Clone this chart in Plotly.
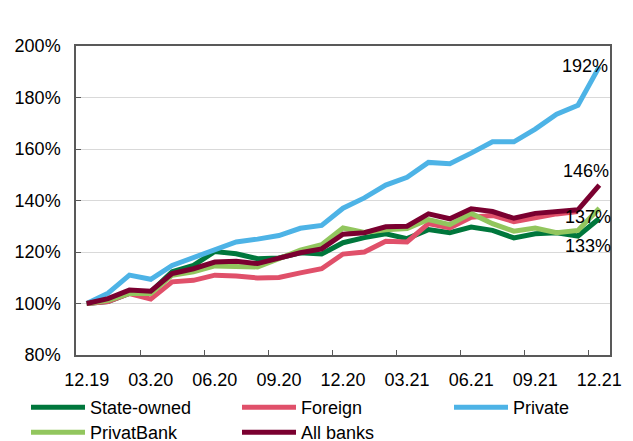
import plotly.graph_objects as go

# Monthly index, Dec 2019 = 100%
months = ["12.19", "01.20", "02.20", "03.20", "04.20", "05.20", "06.20", "07.20", "08.20",
          "09.20", "10.20", "11.20", "12.20", "01.21", "02.21", "03.21", "04.21", "05.21",
          "06.21", "07.21", "08.21", "09.21", "10.21", "11.21", "12.21"]
tick_months = ["12.19", "03.20", "06.20", "09.20", "12.20", "03.21", "06.21", "09.21", "12.21"]

state_owned = [100, 100.8, 103.9, 104.5, 112.3, 114.8, 120.2, 119.3, 117.4, 117.7, 119.7, 119.2,
               123.6, 125.6, 127.1, 125.2, 128.7, 127.5, 129.7, 128.4, 125.5, 127.1, 127.5, 126.2, 133]
foreign = [100, 100.8, 103.9, 101.7, 108.4, 109, 111, 110.7, 109.9, 110.1, 111.9, 113.5,
           119.2, 120.0, 124.2, 123.9, 131, 129.4, 133.5, 134.2, 131.8, 133.5, 134.8, 135.7, None]
private = [100, 104, 111, 109.4, 114.8, 117.7, 121, 123.9, 125, 126.4, 129.2, 130.3,
           137, 141, 146, 149, 154.8, 154.3, 158.4, 162.8, 162.8, 167.7, 173.5, 177, 192]
privatbank = [100, 101.2, 103.9, 103.9, 111, 112.3, 114.6, 114.6, 114.2, 117.4, 120.7, 122.8,
              129.3, 127.6, 128.6, 129.1, 132.6, 130.6, 135, 131, 128.1, 129.3, 127.5, 128.4, 137]
all_banks = [100, 101.9, 105.2, 104.8, 111.6, 113.5, 116.1, 116.4, 115.5, 117.7, 119.7, 121.2,
             126.9, 127.5, 129.8, 130, 134.8, 132.9, 136.8, 135.7, 133.1, 135, 135.7, 136.4, 146]

FONT = "Liberation Sans, Arial, sans-serif"
W, H = 633, 441

# (name, values, colour, legend id, legend left px, legend top px)
series = [
    ("State-owned", state_owned, "#00773C", "legend", 26, 389),
    ("Foreign", foreign, "#E0506A", "legend2", 237, 389),
    ("Private", private, "#4DB3E6", "legend3", 449, 389),
    ("PrivatBank", privatbank, "#92C65E", "legend4", 26, 414),
    ("All banks", all_banks, "#7A0030", "legend5", 237, 414),
]

fig = go.Figure()
legend_layout = {}
for name, vals, color, leg, lx, ly in series:
    fig.add_trace(go.Scatter(x=list(range(len(months))), y=vals, name=name, mode="lines",
                             line=dict(color=color, width=5), connectgaps=False,
                             legend=leg))
    legend_layout[leg] = dict(
        x=lx / W, y=1 - ly / H, xref="container", yref="container",
        xanchor="left", yanchor="top", orientation="v", itemwidth=54,
        font=dict(family=FONT, size=18, color="#000000"),
        bgcolor="rgba(0,0,0,0)",
    )

# End-of-period value labels: (series, x shift, y shift)
end_labels = [
    (private, 11, 1),
    (all_banks, 12, 14),
    (privatbank, 14, -9),
    (state_owned, 14, -27),
]
last = len(months) - 1
for vals, dx, dy in end_labels:
    v = vals[-1]
    fig.add_annotation(x=last, y=v, text=f"{v:.0f}%", showarrow=False,
                       xanchor="right", yanchor="middle", xshift=dx, yshift=dy,
                       font=dict(family=FONT, size=18, color="#000000"))

fig.update_layout(
    width=W, height=H,
    margin=dict(l=76, r=23, t=46, b=86, autoexpand=False),
    plot_bgcolor="white", paper_bgcolor="white",
    font=dict(family=FONT, size=18, color="#000000"),
    showlegend=True,
    **legend_layout,
)

fig.update_xaxes(
    type="linear", tickmode="array",
    tickvals=[months.index(m) for m in tick_months], ticktext=tick_months,
    ticks="", showline=True, linecolor="#595959", linewidth=1.5, mirror=True,
    showgrid=False, range=[-0.5, len(months) - 0.5], tickangle=0, automargin=False,
    tickfont=dict(family=FONT, size=18), ticklabelstandoff=8, zeroline=False,
)
# tick marks sit on month boundaries, half a month before each labelled month
fig.update_layout(xaxis2=dict(
    overlaying="x", matches="x", side="bottom", anchor="y", tickmode="array",
    tickvals=[months.index(m) - 0.5 for m in tick_months if months.index(m) > 0],
    ticks="inside", ticklen=5, tickcolor="#595959", showticklabels=False,
    showgrid=False, showline=False, zeroline=False, automargin=False,
))
fig.add_trace(go.Scatter(x=[0], y=[None], xaxis="x2", showlegend=False, hoverinfo="skip"))

fig.update_yaxes(
    range=[80, 200], dtick=20, ticksuffix="%",
    ticks="inside", ticklen=5, tickcolor="#595959",
    showline=True, linecolor="#595959", linewidth=1.5, mirror=True,
    showgrid=True, gridcolor="#D9D9D9", gridwidth=1, zeroline=False, automargin=False,
    tickfont=dict(family=FONT, size=18), ticklabelstandoff=10,
)

fig.write_html("out.html")
